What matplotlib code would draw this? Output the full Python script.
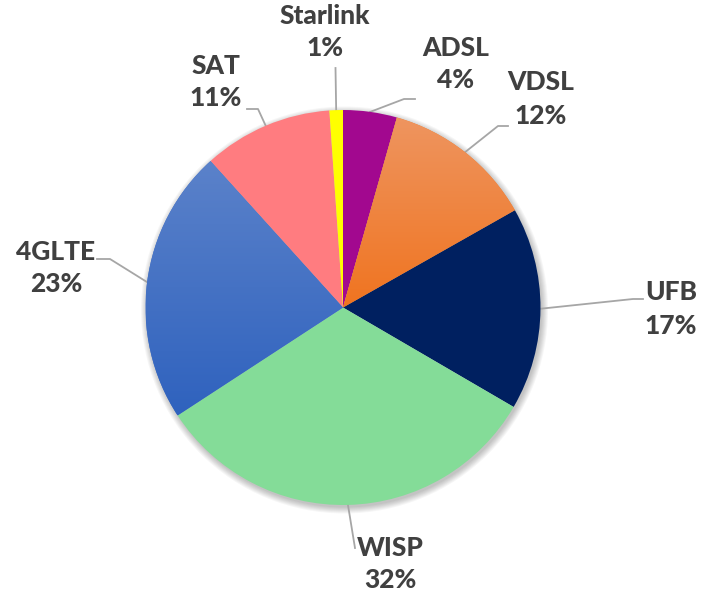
import matplotlib
matplotlib.use("Agg")
import matplotlib.pyplot as plt
import numpy as np
from matplotlib.patches import Circle
from matplotlib.colors import to_rgb

categories = ["ADSL", "VDSL", "UFB", "WISP", "4GLTE", "SAT", "Starlink"]
values = [4.4, 12.4, 16.6, 32.4, 22.5, 10.6, 1.1]
colors = ["#A2088F", "#F07E2E", "#002060", "#84DC98", "#4270C6", "#FF7C80", "#FFFF00"]
# vertical gradients (top, bottom) for some slices
gradients = {"VDSL": ("#EE9560", "#F07420"), "4GLTE": ("#5B82CA", "#2F62BE")}

# label centre positions (pixel coords, y from top) and leader elbows
label_pos = {
    "ADSL": (456, 64), "VDSL": (541, 99), "UFB": (671, 309), "WISP": (390, 564),
    "4GLTE": (56, 268), "SAT": (216, 82), "Starlink": (325, 32),
}
elbows = {
    "ADSL": [(415, 99), (404, 99)], "VDSL": [(508, 126), (498, 126)],
    "UFB": [(643, 299), (633, 299)], "WISP": [(355, 548)],
    "4GLTE": [(97, 259), (110, 259)], "SAT": [(247, 109), (258, 109)],
    "Starlink": [(335.5, 68)],
}

W, H = 705, 597
fig = plt.figure(figsize=(W / 100, H / 100), dpi=100)
ax = fig.add_axes([0, 0, 1, 1])
cx, cy, R = 343, H - 307.5, 197.5

# soft shadow
for k in range(7):
    ax.add_patch(Circle((cx + 1.5, cy - 2.5), R + 6 - k, color="black", alpha=0.035, lw=0, zorder=0))

wedges, _ = ax.pie(values, colors=colors, startangle=90, counterclock=False,
                   center=(cx, cy), radius=R, wedgeprops=dict(linewidth=0))
for w in wedges:
    w.set_zorder(2)

for w, name in zip(wedges, categories):
    if name in gradients:
        top, bot = gradients[name]
        bb = w.get_path().get_extents(w.get_patch_transform())
        n = 256
        t = np.linspace(0, 1, n)[:, None]
        img = (1 - t) * np.array(to_rgb(top)) + t * np.array(to_rgb(bot))
        img = np.repeat(img[:, None, :], 2, axis=1)
        im = ax.imshow(img, extent=(bb.x0, bb.x1, bb.y0, bb.y1), origin="upper",
                       aspect="auto", zorder=3, interpolation="bilinear")
        im.set_clip_path(w)

# leader lines and labels
for w, name, v in zip(wedges, categories, values):
    ang = np.deg2rad((w.theta1 + w.theta2) / 2)
    px, py = cx + R * np.cos(ang), cy + R * np.sin(ang)
    pts = [(x, H - y) for x, y in elbows[name]] + [(px, py)]
    xs, ys = zip(*pts)
    ax.plot(xs, ys, color="#A6A6A6", lw=1.3, zorder=1)
    lx, ly = label_pos[name]
    ax.text(lx, H - ly, f"{name}\n{int(v + 0.5)}%", ha="center", va="center", fontsize=19,
            fontweight="black", family="Lato", color="#404040", linespacing=1.45, zorder=5)

ax.set_xlim(0, W)
ax.set_ylim(0, H)
ax.set_aspect("equal")
ax.axis("off")
fig.savefig("out.png", dpi=100, facecolor="white")
